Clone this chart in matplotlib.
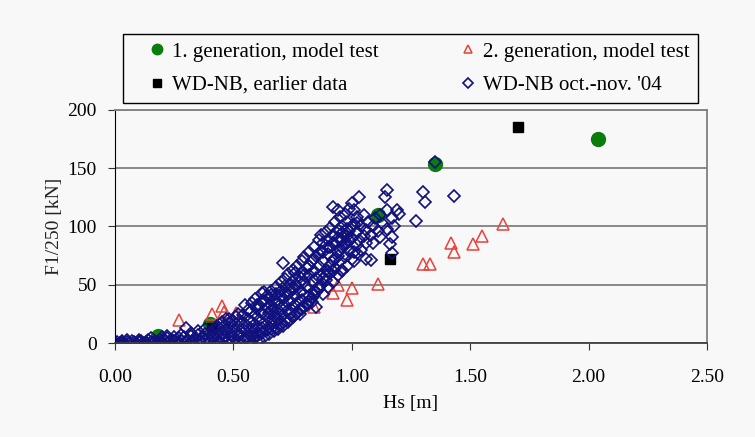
import matplotlib
matplotlib.use('Agg')
import matplotlib.pyplot as plt
from matplotlib.patches import Rectangle

# 1. generation, model test
gen1_hs = [0.18, 0.40, 1.11, 1.35, 2.04]
gen1_f = [6, 16, 110, 154, 175]

# 2. generation, model test
gen2_hs = [0.03, 0.10, 0.18, 0.27, 0.41, 0.45, 0.46, 0.51, 0.84, 0.92, 0.94,
           0.98, 1.00, 1.11, 1.30, 1.33, 1.42, 1.43, 1.51, 1.55, 1.64]
gen2_f = [1, 2, 3, 20, 25, 32, 27, 26, 31, 43, 50,
          37, 47, 51, 68, 68, 86, 78, 85, 92, 102]

# WD-NB, earlier data
early_hs = [0.02, 0.41, 1.16, 1.70]
early_f = [0, 13, 72, 185]

# WD-NB oct.-nov. '04, (Hs, F) pairs
octnov = [
    (0.00, 0), (0.01, 1), (0.02, 0), (0.03, 2), (0.04, 0), (0.05, 1), (0.06, 0), (0.07, 2), (0.08, 1), (0.09, 0),
    (0.10, 1), (0.11, 2), (0.12, 0), (0.13, 1), (0.14, 3), (0.15, 1), (0.16, 0), (0.17, 2), (0.18, 1), (0.19, 3),
    (0.20, 0), (0.21, 2), (0.22, 4), (0.23, 1), (0.24, 3), (0.25, 2), (0.26, 0), (0.27, 4), (0.28, 2), (0.29, 5),
    (0.30, 1), (0.31, 3), (0.32, 6), (0.33, 2), (0.34, 4), (0.35, 7), (0.36, 1), (0.37, 5), (0.38, 8), (0.39, 3),
    (0.22, 6), (0.30, 13), (0.03, 0), (0.13, 0), (0.19, 0), (0.27, 1), (0.33, 0), (0.36, 3), (0.40, 2), (0.41, 6),
    (0.40, 9), (0.41, 4), (0.42, 11), (0.43, 7), (0.44, 2), (0.44, 13), (0.45, 9), (0.46, 5), (0.46, 15), (0.47, 21),
    (0.47, 11), (0.48, 3), (0.48, 17), (0.49, 8), (0.49, 13), (0.50, 19), (0.50, 5), (0.51, 10), (0.51, 22), (0.52, 15),
    (0.52, 2), (0.53, 7), (0.53, 19), (0.54, 12), (0.54, 24), (0.55, 33), (0.55, 4), (0.55, 16), (0.56, 9), (0.56, 21),
    (0.57, 27), (0.57, 13), (0.58, 6), (0.58, 18), (0.58, 34), (0.59, 38), (0.59, 24), (0.59, 11), (0.60, 15), (0.60, 29),
    (0.61, 8), (0.61, 20), (0.61, 33), (0.62, 43), (0.62, 26), (0.62, 13), (0.63, 17), (0.63, 36), (0.63, 44), (0.64, 22),
    (0.64, 30), (0.65, 39), (0.65, 14), (0.65, 26), (0.66, 19), (0.66, 33), (0.66, 45), (0.67, 23), (0.67, 38), (0.67, 29),
    (0.68, 17), (0.68, 42), (0.68, 48), (0.69, 26), (0.69, 34), (0.69, 21), (0.70, 45), (0.70, 30), (0.70, 52), (0.71, 69),
    (0.71, 38), (0.71, 24), (0.72, 49), (0.72, 33), (0.72, 55), (0.73, 28), (0.73, 42), (0.73, 59), (0.74, 36), (0.74, 51),
    (0.74, 25), (0.75, 63), (0.75, 46), (0.75, 31), (0.76, 55), (0.76, 40), (0.76, 60), (0.77, 34), (0.77, 49), (0.77, 66),
    (0.78, 29), (0.78, 44), (0.78, 57), (0.79, 61), (0.79, 37), (0.79, 70), (0.80, 52), (0.80, 42), (0.80, 74), (0.81, 33),
    (0.81, 64), (0.81, 48), (0.82, 58), (0.82, 40), (0.82, 78), (0.83, 35), (0.83, 52), (0.83, 70), (0.84, 45), (0.84, 82),
    (0.84, 62), (0.85, 31), (0.85, 56), (0.85, 75), (0.86, 88), (0.86, 48), (0.86, 66), (0.87, 93), (0.87, 58), (0.87, 79),
    (0.88, 42), (0.88, 70), (0.88, 86), (0.89, 54), (0.89, 63), (0.89, 95), (0.90, 76), (0.90, 48), (0.90, 88), (0.91, 60),
    (0.91, 99), (0.91, 82), (0.92, 117), (0.92, 52), (0.92, 71), (0.92, 93), (0.93, 64), (0.93, 85), (0.93, 104), (0.94, 114),
    (0.94, 58), (0.94, 78), (0.94, 97), (0.95, 70), (0.95, 89), (0.95, 108), (0.96, 62), (0.96, 82), (0.96, 100), (0.97, 74),
    (0.97, 93), (0.97, 111), (0.98, 66), (0.98, 86), (0.98, 104), (0.99, 79), (0.99, 96), (0.99, 115), (1.00, 120), (1.00, 72),
    (1.00, 90), (1.01, 114), (1.01, 78), (1.01, 102), (1.02, 84), (1.02, 108), (1.02, 95), (1.03, 125), (1.03, 88), (1.04, 100),
    (1.04, 80), (1.05, 110), (1.05, 92), (1.06, 97), (1.06, 86), (1.07, 104), (1.08, 71), (1.08, 93), (1.09, 86), (1.09, 100),
    (1.10, 107), (1.11, 96), (1.12, 110), (1.12, 91), (1.13, 102), (1.14, 125), (1.15, 131), (1.15, 114), (1.15, 98), (1.16, 85),
    (1.17, 77), (1.17, 91), (1.17, 107), (1.18, 100), (1.19, 114), (1.20, 111), (1.27, 105), (1.30, 130), (1.31, 121), (1.35, 155),
    (1.43, 126), (1.02, 77), (1.01, 70), (0.96, 63), (1.06, 72),
    (0.42, 1), (0.45, 3), (0.47, 1), (0.50, 2), (0.52, 6), (0.54, 3), (0.56, 5), (0.57, 2), (0.58, 9), (0.59, 4),
    (0.60, 7), (0.61, 3), (0.62, 9), (0.63, 5), (0.64, 11), (0.65, 8), (0.66, 12), (0.67, 10), (0.68, 14), (0.69, 12),
    (0.70, 16), (0.71, 15), (0.72, 19), (0.73, 18), (0.74, 21), (0.75, 22), (0.76, 24), (0.77, 26), (0.78, 25), (0.79, 29),
    (0.80, 31), (0.81, 34), (0.82, 36), (0.83, 39), (0.84, 41), (0.85, 44), (0.86, 46), (0.87, 50), (0.88, 55), (0.89, 58),
    (0.90, 62), (0.91, 67), (0.92, 62), (0.93, 72), (0.94, 75), (0.95, 80), (0.96, 88), (0.97, 84), (0.98, 92), (0.99, 88),
    (0.64, 40), (0.66, 28), (0.68, 36), (0.70, 40), (0.72, 43), (0.74, 46), (0.76, 50), (0.78, 52), (0.80, 58), (0.82, 66),
    (0.84, 72), (0.86, 76), (0.88, 78), (0.90, 82), (0.92, 86), (0.94, 90), (0.96, 94), (0.98, 98), (1.00, 100), (1.02, 103),
    (0.05, 3), (0.10, 3), (0.15, 4), (0.20, 5), (0.25, 5), (0.28, 7), (0.32, 9), (0.35, 10), (0.38, 12), (0.43, 15),
    (0.45, 18), (0.48, 21), (0.52, 25), (0.56, 28), (0.60, 33), (0.62, 36), (0.66, 41),
]
octnov_hs = [p[0] for p in octnov]
octnov_f = [p[1] for p in octnov]

x_ticks = [0.0, 0.5, 1.0, 1.5, 2.0, 2.5]
y_ticks = [0, 50, 100, 150, 200]

plt.rcParams['font.family'] = ['Liberation Serif', 'DejaVu Serif']
bg = '#f8f8f8'

fig = plt.figure(figsize=(7.55, 4.37), dpi=100, facecolor=bg)
ax = fig.add_axes([0.1523, 0.2151, 0.7841, 0.5332], facecolor=bg)

p1, = ax.plot(gen1_hs, gen1_f, 'o', color='#0a7d0a', ms=10, mec='#0a7d0a',
              ls='none', label='1. generation, model test')
p2, = ax.plot(gen2_hs, gen2_f, '^', mfc='none', mec='#e8423c', ms=8, mew=1.1,
              ls='none', label='2. generation, model test')
p3, = ax.plot(early_hs, early_f, 's', color='black', ms=7, ls='none',
              label='WD-NB, earlier data')
p4, = ax.plot(octnov_hs, octnov_f, 'D', mfc='none', mec='#10107e', ms=6.2,
              mew=1.2, ls='none', label="WD-NB oct.-nov. '04")

ax.set_xlim(0, 2.5)
ax.set_ylim(0, 200)
ax.set_xticks(x_ticks)
ax.set_xticklabels([f'{v:.2f}' for v in x_ticks])
ax.set_yticks(y_ticks)
ax.yaxis.grid(True, color='#808080', lw=1.3)
ax.set_axisbelow(True)
ax.tick_params(labelsize=14, direction='out', length=5, color='#333333')
ax.tick_params(axis='x', pad=14)
ax.tick_params(axis='y', pad=8)

for side in ['top', 'right']:
    ax.spines[side].set_color('#808080')
    ax.spines[side].set_linewidth(1.3)
ax.spines['left'].set_color('black')
ax.spines['bottom'].set_color('#404040')
ax.spines['bottom'].set_linewidth(1.3)

ax.set_xlabel('Hs [m]', fontsize=14, labelpad=6)
ax.set_ylabel('F1/250 [kN]', fontsize=14, color='#222222', labelpad=3)

# legend frame drawn on its own, entries placed inside it
ax.add_patch(Rectangle((0.0135, 1.030), 0.971, 0.296, transform=ax.transAxes,
                       facecolor=bg, edgecolor='black', lw=1.0, clip_on=False))
leg = ax.legend(handles=[p1, p3, p2, p4], ncol=2, fontsize=15,
                loc='center left', bbox_to_anchor=(0.0608, 1.178),
                markerscale=0.75, handlelength=0.6, handletextpad=0.4,
                columnspacing=4.0, borderaxespad=0, borderpad=0,
                labelspacing=0.65, frameon=False)

fig.savefig('out.png', dpi=100, facecolor=bg)
